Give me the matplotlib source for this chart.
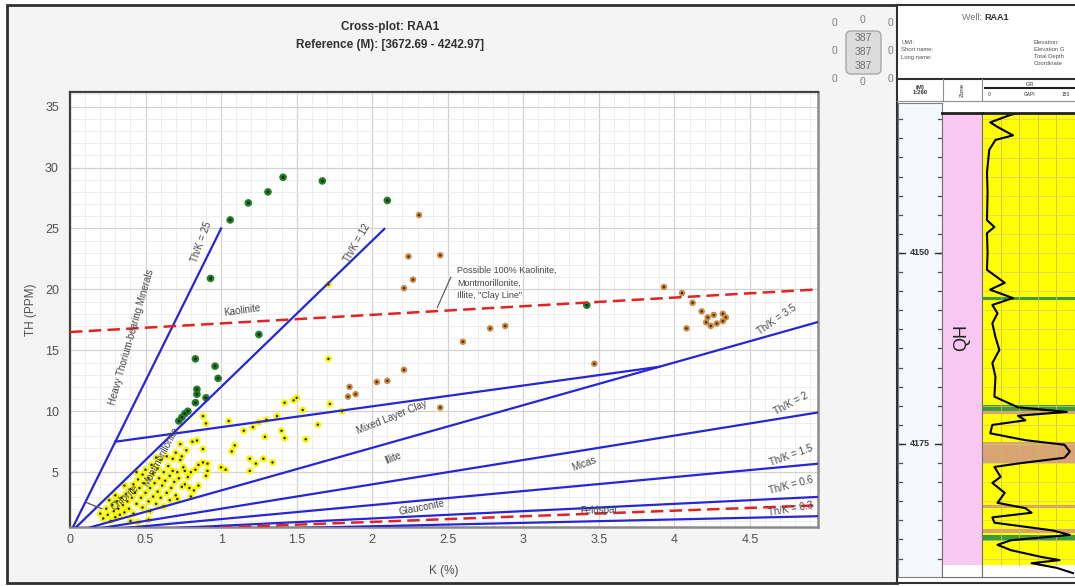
import matplotlib
matplotlib.use("Agg")
import matplotlib.pyplot as plt
from matplotlib.patches import Rectangle, FancyBboxPatch
import numpy as np

plt.rcParams['font.family'] = ['Liberation Sans', 'DejaVu Sans']

# ---------------- data ----------------
green_k = [1.06, 1.18, 1.31, 1.41, 1.67, 2.10, 0.93, 1.25, 0.83, 0.96, 0.98,
           0.84, 0.84, 0.90, 0.83, 0.78, 0.76, 0.74, 0.72, 3.42]
green_th = [25.7, 27.1, 28.0, 29.2, 28.9, 27.3, 20.9, 16.3, 14.3, 13.7, 12.7,
            11.8, 11.4, 11.1, 10.7, 10.0, 9.8, 9.5, 9.2, 18.7]

orange_k = [2.31, 2.45, 2.24, 2.27, 2.21, 2.78, 2.88, 2.60, 2.21, 2.03, 2.10,
            3.47, 3.93, 4.05, 4.12, 4.18, 4.08, 4.22, 4.26, 4.32, 4.34, 4.24,
            4.28, 4.21, 4.32, 1.85, 1.89, 1.84, 2.45]
orange_th = [26.1, 22.8, 22.7, 20.8, 20.1, 16.8, 17.0, 15.7, 13.4, 12.4, 12.5,
             13.9, 20.2, 19.7, 18.9, 18.2, 16.8, 17.7, 17.9, 18.0, 17.7, 17.0,
             17.2, 17.3, 17.4, 12.0, 11.4, 11.2, 10.3]

yellow_k = [0.20, 0.22, 0.24, 0.25, 0.27, 0.28, 0.29, 0.30, 0.31, 0.32, 0.33,
            0.34, 0.35, 0.36, 0.37, 0.38, 0.39, 0.40, 0.40, 0.41, 0.42, 0.43,
            0.44, 0.45, 0.46, 0.47, 0.48, 0.48, 0.49, 0.50, 0.50, 0.52, 0.52,
            0.53, 0.54, 0.55, 0.55, 0.56, 0.57, 0.58, 0.58, 0.59, 0.60, 0.60,
            0.61, 0.62, 0.63, 0.64, 0.64, 0.65, 0.66, 0.67, 0.68, 0.68, 0.69,
            0.70, 0.70, 0.71, 0.72, 0.73, 0.73, 0.74, 0.74, 0.75, 0.76, 0.76,
            0.78, 0.79, 0.80, 0.81, 0.83, 0.84, 0.85, 0.85, 0.71, 0.88, 0.90,
            0.88, 0.88, 0.91, 0.91, 0.90, 1.00, 1.03, 1.05, 1.07, 1.09, 1.15,
            1.19, 1.19, 1.21, 1.23, 1.25, 1.28, 1.29, 1.30, 1.34, 1.37, 1.40,
            1.42, 1.42, 1.48, 1.50, 1.54, 1.56, 1.64, 1.71, 1.71, 1.72, 1.80,
            0.45, 0.52, 0.26, 0.44, 0.36, 0.30, 0.42, 0.53, 0.62, 0.66, 0.80,
            0.82, 0.77, 0.57]
yellow_th = [1.6, 1.2, 2.0, 1.5, 1.0, 2.3, 1.8, 1.3, 2.6, 2.0, 1.5,
             2.9, 2.3, 1.7, 3.2, 2.6, 2.0, 3.6, 1.0, 2.9, 4.0, 3.3,
             2.4, 4.4, 3.7, 2.9, 4.8, 2.1, 4.1, 3.3, 5.2, 2.6, 4.5,
             3.7, 5.6, 3.0, 4.9, 4.1, 2.4, 5.3, 3.4, 4.5, 6.0, 2.9,
             3.9, 5.0, 4.3, 6.3, 3.3, 5.5, 4.7, 3.7, 6.1, 5.1, 4.2,
             6.6, 3.1, 5.0, 4.5, 7.3, 6.0, 6.3, 3.8, 5.4, 4.0, 5.1,
             4.6, 3.7, 5.0, 7.5, 5.2, 7.6, 3.9, 5.6, 2.8, 9.6, 9.0,
             6.9, 5.8, 5.7, 5.1, 4.7, 5.4, 5.2, 9.2, 6.7, 7.2, 8.4,
             6.1, 5.1, 8.7, 5.7, 9.1, 6.1, 7.9, 9.3, 5.8, 9.6, 8.4,
             7.8, 10.7, 10.9, 11.1, 10.1, 7.7, 8.9, 14.3, 20.4, 10.6, 10.0,
             0.9, 1.1, 2.7, 5.0, 3.9, 3.1, 1.6, 1.8, 2.2, 2.7, 3.0,
             3.5, 6.8, 6.2]

# Th/K ratio lines from the origin
ratio_labels = ['Th/K = 25', 'Th/K = 12', 'Th/K = 3.5', 'Th/K = 2',
                'Th/K = 1.5', 'Th/K = 0.6', 'Th/K = 0.3']
ratio_slopes = [25, 12, 3.5, 2.0, 1.15, 0.6, 0.28]
ratio_k_end = [1.0, 2.08, 4.95, 4.95, 4.95, 4.95, 4.95]

mixed_k = [0.30, 3.90]
mixed_th = [7.5, 13.65]
clay_k = [0.0, 4.95]
clay_th = [16.5, 20.0]
feld_slope = 0.46
chlorite_k = [0.11, 0.21]
chlorite_th = [2.5, 2.0]

x_ticks = [0, 0.5, 1, 1.5, 2, 2.5, 3, 3.5, 4, 4.5]
x_tick_labels = ['0', '0.5', '1', '1.5', '2', '2.5', '3', '3.5', '4', '4.5']
y_ticks = [5, 10, 15, 20, 25, 30, 35]

# GR log (depth m, GAPI)
gr_depth = [4131.7, 4131.9, 4132.9, 4133.5, 4134.6, 4135.2, 4136.5, 4139.5, 4142.0,
            4145.7, 4146.6, 4147.4, 4150.0, 4152.2, 4153.9, 4154.8, 4155.9, 4156.8,
            4157.9, 4159.2, 4161.0, 4162.7, 4164.4, 4166.2, 4168.8, 4170.2, 4170.8,
            4171.3, 4171.9, 4172.5, 4173.6, 4174.5, 4175.1, 4176.0, 4176.8, 4177.5,
            4178.0, 4179.3, 4180.1, 4181.4, 4182.7, 4183.4, 4184.0, 4184.6, 4185.3,
            4186.3, 4186.9, 4187.6, 4188.2, 4188.9, 4189.8, 4190.2, 4190.6, 4191.2,
            4191.9]
gr_value = [60, 46.7, 13.3, 25, 50, 21.7, 11.7, 8, 9,
            8, 20, 8, 9, 8, 36.7, 13, 50, 16.7,
            25, 16.7, 21.7, 28, 16.7, 21.7, 20, 58, 136.7,
            58, 70, 16.7, 13.3, 70, 133, 141.7, 133, 63,
            20, 30, 16.7, 36.7, 25, 70, 80, 16.7, 20,
            113, 141.7, 46.7, 25, 46.7, 96.7, 125, 80, 120,
            146.7]
green_bands = [(4155.8, 4156.2), (4169.9, 4170.7), (4186.9, 4187.7)]
tan_bands = [(4170.7, 4171.1), (4174.7, 4177.5), (4183.0, 4183.4), (4186.1, 4186.7)]
zone_name = 'QH'
zone_top, zone_base = 4131.7, 4190.8

# ---------------- figure ----------------
W, H = 1075, 586
fig = plt.figure(figsize=(W / 100, H / 100), dpi=100)
fig.patch.set_facecolor('white')


def fax(x0, y0, x1, y1):
    # pixel box (left, top, right, bottom) -> figure axes
    return fig.add_axes([x0 / W, 1 - y1 / H, (x1 - x0) / W, (y1 - y0) / H])


bg = fig.add_axes([0, 0, 1, 1])
bg.set_xlim(0, W)
bg.set_ylim(H, 0)
bg.axis('off')
bg.set_zorder(0)

# panels
bg.add_patch(Rectangle((7, 5), 890, 578, facecolor='#f4f4f4', edgecolor='#303030', lw=2))
bg.add_patch(Rectangle((897, 5), 180, 578, facecolor='white', edgecolor='#303030', lw=1.5))
bg.text(390, 27, 'Cross-plot: RAA1', ha='center', va='center', fontsize=8.5,
        fontweight='bold', color='#303030')
bg.text(390, 45, 'Reference (M): [3672.69 - 4242.97]', ha='center', va='center',
        fontsize=8.5, fontweight='bold', color='#303030')

# little counter widget
bg.add_patch(FancyBboxPatch((846, 31), 35, 43, boxstyle='round,pad=0,rounding_size=5',
                            facecolor='#dcdcdc', edgecolor='#a8a8a8', lw=1))
for yy in (38, 52, 66):
    bg.text(863, yy, '387', ha='center', va='center', fontsize=7.5, color='#707070')
for xx, yy in [(835, 23), (863, 20), (890, 23), (835, 51), (890, 51),
               (835, 79), (863, 82), (890, 79)]:
    bg.text(xx, yy, '0', ha='center', va='center', fontsize=7.5, color='#808080')

# well header
bg.text(984, 18, 'Well: ', ha='right', va='center', fontsize=6.5, color='#707070')
bg.text(984, 18, 'RAA1', ha='left', va='center', fontsize=6.5, fontweight='bold', color='#303030')
bg.text(901, 40, 'UWI:\nShort name:\nLong name:', ha='left', va='top', fontsize=4.2,
        color='#505050', linespacing=1.6)
bg.text(1034, 40, 'Elevation:\nElevation G\nTotal Depth\nCoordinate', ha='left', va='top',
        fontsize=4.2, color='#505050', linespacing=1.5)
bg.plot([897, 1075], [79, 79], color='#303030', lw=1.5)
bg.plot([897, 1075], [101, 101], color='#909090', lw=0.8)
bg.plot([943, 943], [79, 101], color='#909090', lw=0.8)
bg.plot([982, 982], [79, 101], color='#909090', lw=0.8)
bg.text(920, 90, '(M)\n1:260', ha='center', va='center', fontsize=4.2, fontweight='bold',
        color='#303030', linespacing=1.2)
bg.text(962, 90, 'Zone', ha='center', va='center', fontsize=4.5, rotation=90, color='#303030')
bg.text(1030, 84, 'GR', ha='center', va='center', fontsize=4, color='#303030')
bg.plot([985, 1075], [88, 88], color='#202020', lw=1.5)
bg.text(988, 95, '0', ha='left', va='center', fontsize=3.5, color='#303030')
bg.text(1030, 95, 'GAPI', ha='center', va='center', fontsize=3.5, color='#303030')
bg.text(1070, 95, '150', ha='right', va='center', fontsize=3.5, color='#303030')

# ---------------- cross-plot ----------------
ax = fax(70, 92, 818, 527)
ax.set_zorder(2)
ax.set_facecolor('white')
ax.set_xlim(0, 4.95)
ax.set_ylim(0.5, 36.2)
ax.set_xticks(x_ticks)
ax.set_xticklabels(x_tick_labels)
ax.set_yticks(y_ticks)
ax.set_xticks(np.arange(0, 4.95, 0.1), minor=True)
ax.set_yticks(np.arange(1, 36.1, 1), minor=True)
ax.grid(which='minor', color='#ebebeb', lw=0.6)
ax.grid(which='major', color='#d2d2d2', lw=0.9)
ax.set_axisbelow(True)
ax.tick_params(which='both', length=0, labelsize=9, labelcolor='#505050')
ax.tick_params(axis='y', pad=8)
ax.tick_params(axis='x', pad=5)
for s in ('left', 'top'):
    ax.spines[s].set_color('#404040')
    ax.spines[s].set_linewidth(1.6)
for s in ('right', 'bottom'):
    ax.spines[s].set_color('#8a8a8a')
    ax.spines[s].set_linewidth(1.8)
ax.set_xlabel('K (%)', fontsize=8.5, color='#505050', labelpad=14)
ax.set_ylabel('TH (PPM)', fontsize=8.5, color='#505050', labelpad=6)

# points
ax.scatter(yellow_k, yellow_th, s=26, color='#f7f700', edgecolors='none', zorder=2)
ax.scatter(yellow_k, yellow_th, s=3, color='#202020', edgecolors='none', zorder=2.1)
ax.scatter(orange_k, orange_th, s=22, color='#cf8840', edgecolors='none', zorder=2)
ax.scatter(orange_k, orange_th, s=3, color='#3a2810', edgecolors='none', zorder=2.1)
ax.scatter(green_k, green_th, s=30, color='#1f7f25', edgecolors='none', zorder=2)
ax.scatter(green_k, green_th, s=4, color='#0a200a', edgecolors='none', zorder=2.1)

# lines
blue = '#2626d8'
for slope, k_end in zip(ratio_slopes, ratio_k_end):
    ax.plot([0, k_end], [0, slope * k_end], color=blue, lw=1.6, zorder=3)
ax.plot(mixed_k, mixed_th, color=blue, lw=1.6, zorder=3)
ax.plot(clay_k, clay_th, color='#e32222', lw=1.8, ls=(0, (5, 2.5)), zorder=3)
ax.plot([0, 4.95], [0, feld_slope * 4.95], color='#e32222', lw=1.8, ls=(0, (5, 2.5)), zorder=3)
ax.plot(chlorite_k, chlorite_th, color='#606060', lw=1, zorder=3)

# labels
lab = dict(fontsize=7, color='#454545', ha='center', va='center', zorder=4)
ratio_pos = [(0.87, 23.9, 70), (1.90, 23.8, 60), (4.68, 17.5, 35), (4.77, 10.6, 28),
             (4.77, 6.4, 20), (4.77, 3.9, 15), (4.77, 2.0, 10)]
for text, (kx, ty, rot) in zip(ratio_labels, ratio_pos):
    ax.text(kx, ty, text, rotation=rot, **lab)
ax.text(0.41, 16.1, 'Heavy Thorium-bearing Minerals', rotation=74, **lab)
ax.text(1.14, 18.3, 'Kaolinite', rotation=8, **lab)
ax.text(2.13, 9.5, 'Mixed Layer Clay', rotation=22, **lab)
ax.text(2.14, 6.2, 'Illite', rotation=22, **lab)
ax.text(3.40, 5.65, 'Micas', rotation=20, **lab)
ax.text(2.33, 2.1, 'Glauconite', rotation=11, **lab)
ax.text(3.50, 1.9, 'Feldspar', rotation=2, **lab)
ax.text(0.60, 6.3, 'Montmorillonite', rotation=62, **lab)
ax.text(0.36, 2.9, 'Chlorite', rotation=42, **lab)
ax.text(2.56, 21.9, 'Possible 100% Kaolinite,\nMontmorillonite,\nIllite, "Clay Line"',
        fontsize=6.5, color='#454545', ha='left', va='top', linespacing=1.45, zorder=4)
ax.plot([2.52, 2.43], [21.0, 18.5], color='#505050', lw=0.8, zorder=4)

# ---------------- well log strip ----------------
px_per_m = 7.64
d_at = lambda py: 4150 + (py - 253) / px_per_m

ax_d = fax(898, 103, 942, 577)
ax_d.set_zorder(2)
ax_d.set_facecolor('#f5f8fc')
ax_d.set_xlim(0, 1)
ax_d.set_ylim(d_at(577), d_at(103))
ax_d.set_xticks([])
ax_d.set_yticks([])
for s in ax_d.spines.values():
    s.set_color('#808080')
    s.set_linewidth(0.8)
for d in np.arange(4132.5, 4191, 2.5):
    ax_d.plot([0, 0.08], [d, d], color='#505050', lw=0.9)
    ax_d.plot([0.92, 1], [d, d], color='#505050', lw=0.9)
for d in (4150, 4175):
    ax_d.plot([0, 0.15], [d, d], color='#303030', lw=1)
    ax_d.plot([0.85, 1], [d, d], color='#303030', lw=1)
    ax_d.text(0.5, d, str(d), ha='center', va='center', fontsize=6.5, fontweight='bold',
              color='#303030')

ax_z = fax(942, 113, 982, 577)
ax_z.set_zorder(2)
ax_z.set_facecolor('white')
ax_z.set_xlim(0, 1)
ax_z.set_ylim(d_at(577), d_at(113))
ax_z.set_xticks([])
ax_z.set_yticks([])
ax_z.axhspan(zone_top, zone_base, color='#f9c8f2', lw=0)
ax_z.text(0.5, 4161.0, zone_name, rotation=90, ha='center', va='center', fontsize=13,
          color='#202020')
for s in ax_z.spines.values():
    s.set_color('#707070')
    s.set_linewidth(0.8)
ax_z.spines['top'].set_color('#202020')
ax_z.spines['top'].set_linewidth(2)

ax_g = fax(982, 113, 1075, 577)
ax_g.set_zorder(2)
ax_g.set_facecolor('white')
ax_g.set_xlim(0, 150)
ax_g.set_ylim(d_at(577), d_at(113))
ax_g.set_xticks([])
ax_g.set_yticks([])
ax_g.axhspan(zone_top, zone_base, color='#ffff00', lw=0)
for top, base in tan_bands:
    ax_g.axhspan(top, base, color='#d9a474', lw=0)
for top, base in green_bands:
    ax_g.axhspan(top, base, color='#3c9c3c', lw=0)
for gx in (30, 60, 90, 120):
    ax_g.plot([gx, gx], [zone_top, zone_base], color='#c8c060', lw=0.6)
for d in np.arange(4132.5, 4191, 2.5):
    ax_g.plot([0, 150], [d, d], color='#d6cc70', lw=0.5)
ax_g.plot(gr_value, gr_depth, color='black', lw=1.5)
for s in ax_g.spines.values():
    s.set_color('#707070')
    s.set_linewidth(0.8)
ax_g.spines['top'].set_color('#202020')
ax_g.spines['top'].set_linewidth(2)

fig.savefig('out.png', dpi=100)
